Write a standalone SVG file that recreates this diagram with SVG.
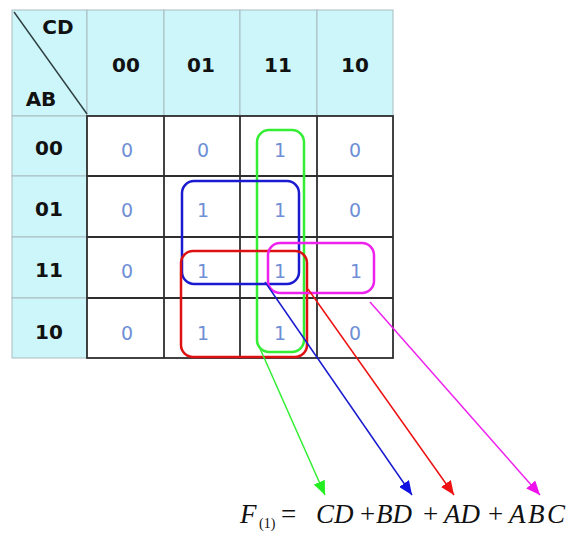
<svg xmlns="http://www.w3.org/2000/svg" width="568" height="539" viewBox="0 0 568 539">
  <style>
    .hdr { fill: #ccf6fa; stroke: #a9bcc0; stroke-width: 1; }
    .grid { stroke: #2e2e2e; stroke-width: 1.8; }
    .lbl { font-family: "DejaVu Sans", "Liberation Sans", sans-serif; font-weight: bold; font-size: 20px; fill: #111111; text-anchor: middle; }
    .val { font-family: "DejaVu Sans", "Liberation Sans", sans-serif; font-size: 19px; fill: #6f8fd6; text-anchor: middle; }
    .loop { fill: none; stroke-width: 2.5; }
    .eq { font-family: "Liberation Serif", serif; font-style: italic; font-size: 27px; fill: #111111; }
    .eqn { font-family: "Liberation Serif", serif; font-size: 27px; fill: #111111; }
    .sub { font-family: "Liberation Serif", serif; font-size: 14px; fill: #111111; }
  </style>
  <defs>
    <marker id="ah-green" viewBox="0 0 14 12" refX="14" refY="6" markerWidth="14" markerHeight="12" markerUnits="userSpaceOnUse" orient="auto"><path d="M0,0 L14,6 L0,12 Z" fill="#22ee22"/></marker>
    <marker id="ah-blue" viewBox="0 0 14 12" refX="14" refY="6" markerWidth="14" markerHeight="12" markerUnits="userSpaceOnUse" orient="auto"><path d="M0,0 L14,6 L0,12 Z" fill="#1010e0"/></marker>
    <marker id="ah-red" viewBox="0 0 14 12" refX="14" refY="6" markerWidth="14" markerHeight="12" markerUnits="userSpaceOnUse" orient="auto"><path d="M0,0 L14,6 L0,12 Z" fill="#ee1111"/></marker>
    <marker id="ah-mag" viewBox="0 0 14 12" refX="14" refY="6" markerWidth="14" markerHeight="12" markerUnits="userSpaceOnUse" orient="auto"><path d="M0,0 L14,6 L0,12 Z" fill="#ee11ee"/></marker>
  </defs>
  <rect width="568" height="539" fill="#ffffff"/>

  <!-- header row and row-label column -->
  <g id="header">
    <rect class="hdr" x="12" y="10" width="75" height="106"/>
    <rect class="hdr" x="87" y="10" width="77" height="106"/>
    <rect class="hdr" x="164" y="10" width="76" height="106"/>
    <rect class="hdr" x="240" y="10" width="77" height="106"/>
    <rect class="hdr" x="317" y="10" width="76" height="106"/>
    <line x1="14" y1="12" x2="87" y2="114" stroke="#2e3e40" stroke-width="1.4"/>
    <text class="lbl" x="58" y="34">CD</text>
    <text class="lbl" x="41" y="106">AB</text>
    <text class="lbl" x="126" y="72">00</text>
    <text class="lbl" x="201" y="72">01</text>
    <text class="lbl" x="278" y="72">11</text>
    <text class="lbl" x="355" y="72">10</text>
  </g>
  <g id="rowlabels">
    <rect class="hdr" x="12" y="116" width="75" height="60"/>
    <rect class="hdr" x="12" y="176" width="75" height="61"/>
    <rect class="hdr" x="12" y="237" width="75" height="61"/>
    <rect class="hdr" x="12" y="298" width="75" height="60"/>
    <text class="lbl" x="49" y="155">00</text>
    <text class="lbl" x="49" y="216">01</text>
    <text class="lbl" x="49" y="277">11</text>
    <text class="lbl" x="49" y="339">10</text>
  </g>

  <!-- map cells -->
  <g id="cells">
    <rect class="grid" x="87" y="116" width="306" height="242" fill="#ffffff"/>
    <line class="grid" x1="164" y1="116" x2="164" y2="358"/>
    <line class="grid" x1="240" y1="116" x2="240" y2="358"/>
    <line class="grid" x1="317" y1="116" x2="317" y2="358"/>
    <line class="grid" x1="87" y1="176" x2="393" y2="176"/>
    <line class="grid" x1="87" y1="237" x2="393" y2="237"/>
    <line class="grid" x1="87" y1="298" x2="393" y2="298"/>
    <text class="val" x="127" y="157">0</text>
    <text class="val" x="203" y="157">0</text>
    <text class="val" x="280" y="157">1</text>
    <text class="val" x="355" y="157">0</text>
    <text class="val" x="127" y="217">0</text>
    <text class="val" x="203" y="217">1</text>
    <text class="val" x="280" y="217">1</text>
    <text class="val" x="355" y="217">0</text>
    <text class="val" x="127" y="278">0</text>
    <text class="val" x="203" y="278">1</text>
    <text class="val" x="280" y="278">1</text>
    <text class="val" x="356" y="278">1</text>
    <text class="val" x="127" y="340">0</text>
    <text class="val" x="203" y="340">1</text>
    <text class="val" x="280" y="340">1</text>
    <text class="val" x="355" y="340">0</text>
  </g>

  <!-- groupings -->
  <g id="loop-cd"><rect class="loop" x="257" y="130" width="47" height="222" rx="12" stroke="#33ee33"/></g>
  <g id="loop-bd"><rect class="loop" x="182" y="181" width="117" height="103" rx="12" stroke="#1a1ad0"/></g>
  <g id="loop-ad"><rect class="loop" x="181" y="251" width="126" height="106" rx="12" stroke="#dd1111" stroke-width="3"/></g>
  <g id="loop-abc"><rect class="loop" x="268" y="243" width="106" height="50" rx="12" stroke="#ee22ee"/></g>

  <!-- connectors from groups to terms -->
  <g id="connectors" fill="none" stroke-width="1.5">
    <line x1="258" y1="344" x2="325" y2="495" stroke="#33ee33" marker-end="url(#ah-green)"/>
    <line x1="265" y1="282" x2="412" y2="495" stroke="#1a1ad0" marker-end="url(#ah-blue)"/>
    <line x1="308" y1="289" x2="454" y2="495" stroke="#ee1111" marker-end="url(#ah-red)"/>
    <line x1="370" y1="302" x2="540" y2="495" stroke="#ee22ee" marker-end="url(#ah-mag)"/>
  </g>

  <!-- resulting expression -->
  <g id="expression">
    <text class="eq" x="240" y="523">F</text>
    <text class="sub" x="259" y="528">(1)</text>
    <text class="eqn" x="281" y="523">=</text>
    <text class="eq" x="316" y="523">CD</text>
    <text class="eqn" x="360" y="523">+</text>
    <text class="eq" x="376" y="523">BD</text>
    <text class="eqn" x="423" y="523">+</text>
    <text class="eq" x="444" y="523">AD</text>
    <text class="eqn" x="488" y="523">+</text>
    <text class="eq" x="509" y="523" textLength="56" lengthAdjust="spacing">ABC</text>
  </g>
</svg>
